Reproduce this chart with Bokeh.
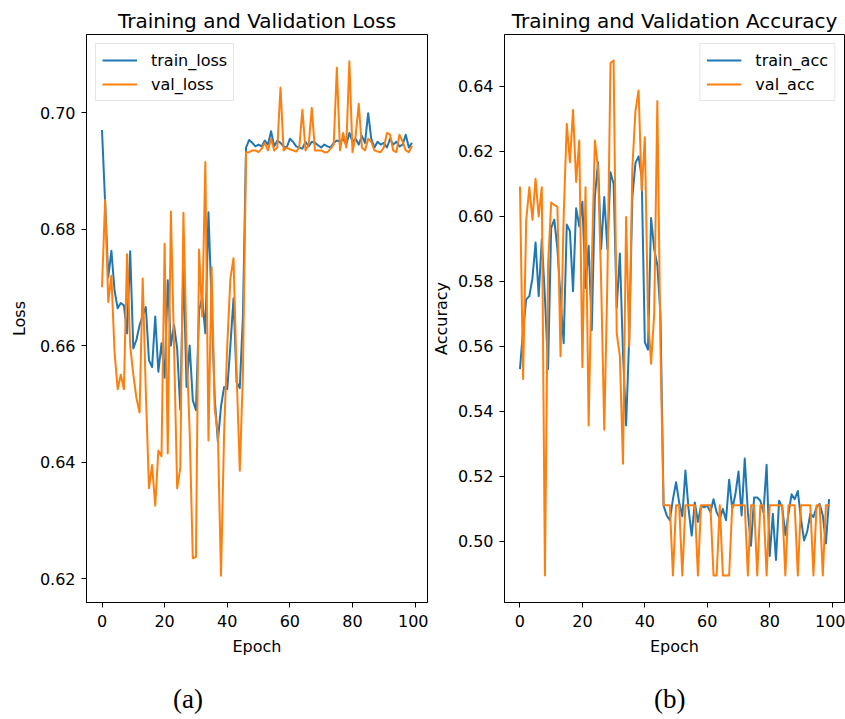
from bokeh.plotting import figure
from bokeh.layouts import row, column
from bokeh.models import Range1d, FixedTicker, PrintfTickFormatter, Legend, LegendItem, Div
from bokeh.embed import file_html
from bokeh.resources import INLINE

epochs = list(range(100))

train_loss = [
    0.6970, 0.6845, 0.6717, 0.6763, 0.6695, 0.6664, 0.6673, 0.6669, 0.6621, 0.6762,
    0.6595, 0.6610, 0.6635, 0.6652, 0.6666, 0.6575, 0.6563, 0.6650, 0.6555, 0.6604,
    0.6545, 0.6712, 0.6600, 0.6635, 0.6595, 0.6490, 0.6738, 0.6529, 0.6600, 0.6506,
    0.6489, 0.6660, 0.6683, 0.6621, 0.6829, 0.6670, 0.6510, 0.6435, 0.6495, 0.6529,
    0.6525, 0.6600, 0.6681, 0.6537, 0.6527, 0.6650, 0.6940, 0.6953, 0.6948, 0.6942,
    0.6945, 0.6942, 0.6952, 0.6945, 0.6968, 0.6942, 0.6952, 0.6948, 0.6942, 0.6940,
    0.6955, 0.6950, 0.6942, 0.6940, 0.6938, 0.6950, 0.6942, 0.6950, 0.6948, 0.6944,
    0.6940, 0.6945, 0.6942, 0.6940, 0.6948, 0.6952, 0.6950, 0.6955, 0.6945, 0.6965,
    0.6950, 0.6955, 0.6945, 0.6960, 0.6948, 0.6999, 0.6955, 0.6940, 0.6950, 0.6945,
    0.6948, 0.6940, 0.6955, 0.6945, 0.6950, 0.6942, 0.6945, 0.6962, 0.6940, 0.6948,
]

val_loss = [
    0.6700, 0.6850, 0.6675, 0.6720, 0.6590, 0.6525, 0.6550, 0.6525, 0.6757, 0.6600,
    0.6550, 0.6510, 0.6485, 0.6715, 0.6520, 0.6355, 0.6395, 0.6325, 0.6420, 0.6410,
    0.6775, 0.6415, 0.6830, 0.6600, 0.6355, 0.6390, 0.6828, 0.6600, 0.6450, 0.6235,
    0.6237, 0.6765, 0.6650, 0.6915, 0.6437, 0.6735, 0.6490, 0.6450, 0.6205, 0.6450,
    0.6600, 0.6715, 0.6750, 0.6550, 0.6385, 0.6550, 0.6932, 0.6932, 0.6935, 0.6935,
    0.6932, 0.6938, 0.6948, 0.6935, 0.6955, 0.6935, 0.6940, 0.7043, 0.6935, 0.6940,
    0.6937, 0.6935, 0.6933, 0.6940, 0.7005, 0.6935, 0.6945, 0.7008, 0.6935, 0.6935,
    0.6935, 0.6932, 0.6932, 0.6938, 0.6945, 0.7077, 0.6935, 0.6965, 0.6940, 0.7088,
    0.6932, 0.6960, 0.7015, 0.6940, 0.6935, 0.6955, 0.6950, 0.6935, 0.6933, 0.6932,
    0.6940, 0.6965, 0.6962, 0.6935, 0.6932, 0.6962, 0.6950, 0.6935, 0.6932, 0.6943,
]

train_acc = [
    0.5530, 0.5650, 0.5745, 0.5755, 0.5810, 0.5920, 0.5755, 0.5930, 0.5750, 0.5530,
    0.5965, 0.5990, 0.5900, 0.5750, 0.5610, 0.5975, 0.5955, 0.5770, 0.6025, 0.5970,
    0.6045, 0.5780, 0.5910, 0.5650, 0.6060, 0.6167, 0.5900, 0.6060, 0.5900, 0.6136,
    0.6100, 0.5720, 0.5886, 0.5580, 0.5357, 0.5630, 0.6060, 0.6165, 0.6185, 0.6120,
    0.5613, 0.5590, 0.5995, 0.5900, 0.5850, 0.5700, 0.5110, 0.5080, 0.5065, 0.5130,
    0.5182, 0.5120, 0.5077, 0.5218, 0.5100, 0.5018, 0.5120, 0.5060, 0.5110, 0.5105,
    0.5110, 0.5090, 0.5130, 0.5090, 0.5070, 0.5100, 0.5065, 0.5190, 0.5100, 0.5145,
    0.5215, 0.5080, 0.5255, 0.5090, 0.4987, 0.5135, 0.5135, 0.5125, 0.5090, 0.5236,
    0.4955, 0.5085, 0.4943, 0.5125, 0.5105, 0.5020, 0.5085, 0.5145, 0.5130, 0.5155,
    0.5070, 0.5003, 0.5030, 0.5085, 0.5075, 0.5105, 0.5115, 0.5080, 0.4994, 0.5130,
]

val_acc = [
    0.6092, 0.5500, 0.5988, 0.6090, 0.5990, 0.6116, 0.6000, 0.6090, 0.4895, 0.5850,
    0.6043, 0.6035, 0.6030, 0.5570, 0.6000, 0.6285, 0.6167, 0.6328, 0.6106, 0.6234,
    0.5536, 0.6090, 0.5357, 0.5850, 0.6234, 0.6150, 0.5800, 0.5344, 0.5800, 0.6472,
    0.6480, 0.5640, 0.5570, 0.5239, 0.5998, 0.5600, 0.6150, 0.6326, 0.6388, 0.6080,
    0.6244, 0.5700, 0.5547, 0.5700, 0.6355, 0.5600, 0.5111, 0.5111, 0.5111, 0.4895,
    0.5111, 0.5111, 0.4895, 0.5111, 0.5111, 0.5111, 0.5111, 0.4895, 0.5111, 0.5111,
    0.5111, 0.5111, 0.4895, 0.4895, 0.5111, 0.4895, 0.4895, 0.4895, 0.5111, 0.5111,
    0.5111, 0.5111, 0.5111, 0.4895, 0.5111, 0.5111, 0.4895, 0.5111, 0.5111, 0.4895,
    0.5111, 0.5111, 0.5111, 0.5111, 0.5111, 0.4895, 0.5111, 0.5111, 0.5111, 0.4895,
    0.5111, 0.5111, 0.5111, 0.5111, 0.4895, 0.5111, 0.5111, 0.4895, 0.5111, 0.5111,
]

loss_ticks = [0.62, 0.64, 0.66, 0.68, 0.70]
acc_ticks = [0.50, 0.52, 0.54, 0.56, 0.58, 0.60, 0.62, 0.64]
epoch_ticks = [0, 20, 40, 60, 80, 100]
captions = ["(a)", "(b)"]

BLUE = "#1f77b4"
ORANGE = "#ff7f0e"
FONT = "DejaVu Sans"
H = 680
TOP = 34
FRAME_H = 568
W1 = 428
W2 = 845 - W1


def make_panel(title, ylab, ys, names, yr, yticks, width, bl, br, leg_loc, lab_sd):
    p = figure(width=width, height=H, output_backend="svg", toolbar_location=None,
               x_range=Range1d(-4.95, 103.95), y_range=Range1d(*yr),
               min_border_left=bl, min_border_right=br, min_border_top=TOP,
               min_border_bottom=H - TOP - FRAME_H)
    p.title.text = title
    p.title.align = "center"
    p.title.text_font = FONT
    p.title.text_font_size = "20px"
    p.title.text_font_style = "normal"
    p.title.text_color = "black"
    p.title.standoff = 4
    p.grid.visible = False
    p.outline_line_color = "black"
    p.outline_line_width = 1
    p.outline_line_alpha = 1
    p.background_fill_color = "white"
    p.border_fill_color = "white"

    p.xaxis.ticker = FixedTicker(ticks=epoch_ticks)
    p.yaxis.ticker = FixedTicker(ticks=yticks)
    p.yaxis.formatter = PrintfTickFormatter(format="%.2f")
    p.xaxis.axis_label = "Epoch"
    p.yaxis.axis_label = ylab
    for ax in (p.xaxis, p.yaxis):
        ax.axis_line_color = "black"
        ax.major_tick_line_color = "black"
        ax.major_tick_out = 5
        ax.major_tick_in = 0
        ax.minor_tick_line_color = None
        ax.major_label_text_font = FONT
        ax.major_label_text_font_size = "16px"
        ax.major_label_text_color = "black"
        ax.axis_label_text_font = FONT
        ax.axis_label_text_font_size = "16px"
        ax.axis_label_text_font_style = "normal"
        ax.axis_label_text_color = "black"
    p.xaxis.major_label_standoff = 7
    p.xaxis.axis_label_standoff = 7
    p.yaxis.major_label_standoff = 6
    p.yaxis.axis_label_standoff = lab_sd

    r1 = p.line(epochs, ys[0], line_color=BLUE, line_width=2, line_join="round")
    r2 = p.line(epochs, ys[1], line_color=ORANGE, line_width=2, line_join="round")
    leg = Legend(items=[LegendItem(label=names[0], renderers=[r1]),
                        LegendItem(label=names[1], renderers=[r2])],
                 location=leg_loc, margin=9, padding=6, spacing=4,
                 glyph_width=35, glyph_height=20, label_height=20,
                 label_standoff=14, label_text_font=FONT,
                 label_text_font_size="16px", label_text_color="black",
                 border_line_color="#cccccc", border_line_width=1,
                 background_fill_color="white", background_fill_alpha=0.8)
    p.add_layout(leg)
    return p


p1 = make_panel("Training and Validation Loss", "Loss", [train_loss, val_loss],
                ["train_loss", "val_loss"], (0.6159, 0.7134), loss_ticks,
                W1, 86, 1, "top_left", 8)
p2 = make_panel("Training and Validation Accuracy", "Accuracy", [train_acc, val_acc],
                ["train_acc", "val_acc"], (0.4812, 0.6560), acc_ticks,
                W2, 74, 1, "top_right", 4)


def caption(text, w, left):
    return Div(text=f'<div style="margin-left:{left}px;margin-top:0px;line-height:28px;'
                    f'font-family:\'Liberation Serif\';font-size:27px;color:black">{text}</div>',
               width=w, height=719 - H)


layout = column(row(p1, p2), row(caption(captions[0], W1, 168), caption(captions[1], W2, 211)))
open("out.html", "w").write(file_html(layout, INLINE))
